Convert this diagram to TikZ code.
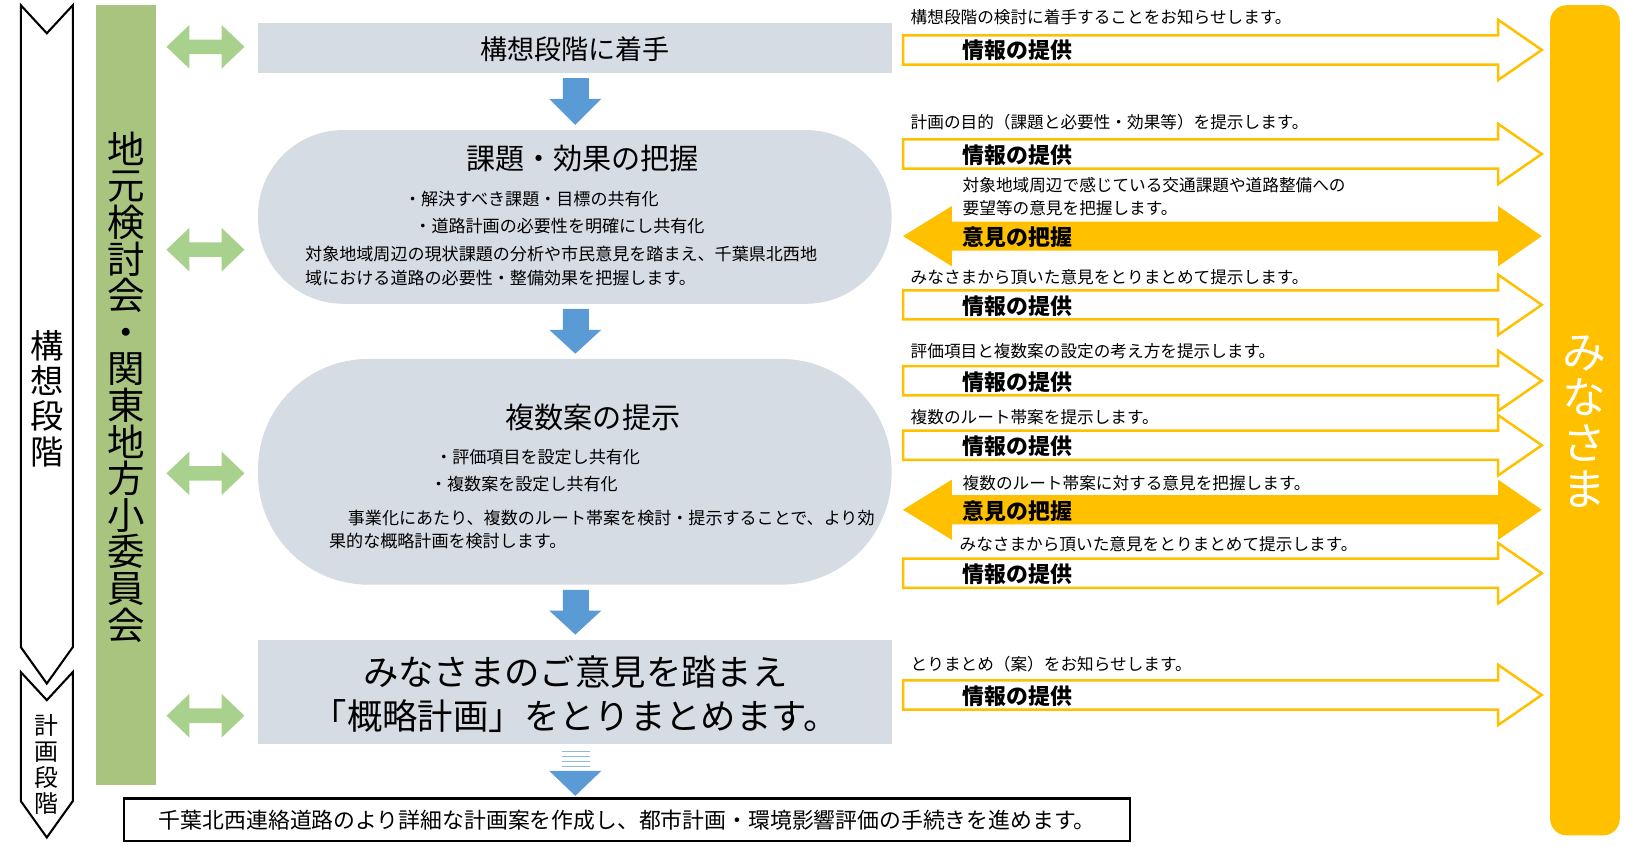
\documentclass[tikz,border=0pt]{standalone}
\usepackage{fontspec}
\setmainfont{Noto Sans CJK JP}
\begin{document}
\begin{tikzpicture}[x=0.5pt,y=-0.5pt,
  gbox/.style={fill=boxgray,draw=none},
  sm/.style={font=\fontsize{8}{9.5}\selectfont,anchor=west,inner sep=0},
  lab/.style={font=\fontsize{10.5}{12}\selectfont\bfseries,anchor=west,inner sep=0},
  body/.style={font=\fontsize{8.2}{11.5}\selectfont,anchor=west,inner sep=0,align=left}]
\definecolor{boxgray}{HTML}{D6DCE4}
\definecolor{gbar}{HTML}{A9C47F}
\definecolor{garr}{HTML}{A9D18E}
\definecolor{barr}{HTML}{5B9BD5}
\definecolor{yel}{HTML}{FFC000}
\useasboundingbox (0,0) rectangle (1562,814);
\newcommand\InfoArrow[1]{\draw[yel,line width=1.2pt,fill=white,line join=miter] (868,#1-14)--(1440,#1-14)--(1440,#1-29)--(1482,#1)--(1440,#1+29)--(1440,#1+14)--(868,#1+14)--cycle;}
\newcommand\BothArrow[1]{\fill[yel] (868,#1)--(915,#1-29)--(915,#1-14)--(1440,#1-14)--(1440,#1-29)--(1482,#1)--(1440,#1+29)--(1440,#1+14)--(915,#1+14)--(915,#1+29)--cycle;}
\newcommand\GArrow[1]{\fill[garr] (160,#1)--(182,#1-21)--(182,#1-7)--(213,#1-7)--(213,#1-21)--(235,#1)--(213,#1+21)--(213,#1+7)--(182,#1+7)--(182,#1+21)--cycle;}
\newcommand\BArrow[2]{\fill[barr] (541,#1)--(566,#1)--(566,#1+20)--(578,#1+20)--(553,#2)--(528,#1+20)--(541,#1+20)--cycle;}
% left stage arrows
\draw[line width=1pt] (20,5)--(45,32)--(70,5)--(70,622)--(45,657)--(20,622)--cycle;
\draw[line width=1pt] (20,646)--(45,673)--(70,646)--(70,770)--(45,805)--(20,770)--cycle;
\node[font=\fontsize{16}{17}\selectfont,align=center,inner sep=0] (s1) at (45,383) {構\\想\\段\\階};
\node[font=\fontsize{11.5}{12.5}\selectfont,align=center,inner sep=0] (s2) at (45,735) {計\\画\\段\\階};
% green bar
\fill[gbar] (92,5) rectangle (150,755);
\node[font=\fontsize{18}{17.6}\selectfont,align=center,inner sep=0] (loc) at (121,372) {地\\元\\検\\討\\会\\・\\関\\東\\地\\方\\小\\委\\員\\会};
\GArrow{45}\GArrow{240}\GArrow{455}\GArrow{688}
% main boxes
\fill[boxgray] (248,22) rectangle (857,70);
\node[font=\fontsize{13}{14}\selectfont] (b1) at (553,47) {構想段階に着手};
\fill[boxgray,rounded corners=41pt] (248,125) rectangle (857,292);
\node[font=\fontsize{14}{15}\selectfont] (b2) at (560,152) {課題・効果の把握};
\node[body] at (388,191) {・解決すべき課題・目標の共有化};
\node[body] at (398,217) {・道路計画の必要性を明確にし共有化};
\node[body] at (293,256) {対象地域周辺の現状課題の分析や市民意見を踏まえ、千葉県北西地\\域における道路の必要性・整備効果を把握します。};
\fill[boxgray,rounded corners=53pt] (248,345) rectangle (857,562);
\node[font=\fontsize{14}{15}\selectfont] (b3) at (570,401) {複数案の提示};
\node[body] at (418,439) {・評価項目を設定し共有化};
\node[body] at (413,465) {・複数案を設定し共有化};
\node[body] at (316,509) {\hspace{9pt}事業化にあたり、複数のルート帯案を検討・提示することで、より効\\果的な概略計画を検討します。};
\fill[boxgray] (248,615) rectangle (857,715);
\node[font=\fontsize{17}{21}\selectfont,align=center] (b4) at (553,667) {みなさまのご意見を踏まえ\\「概略計画」をとりまとめます。};
\BArrow{75}{120}\BArrow{297}{340}\BArrow{567}{610}
\foreach \yy in {722,727,732,737} \draw[barr!70,line width=0.5pt] (540,\yy)--(567,\yy);
\fill[barr] (528,741)--(578,741)--(553,765)--cycle;
\node[draw,line width=1pt,minimum width=967*0.5pt,minimum height=41*0.5pt,font=\fontsize{10.5}{12}\selectfont] (fin) at (603,788) {千葉北西連絡道路のより詳細な計画案を作成し、都市計画・環境影響評価の手続きを進めます。};
% right bar
\fill[yel,rounded corners=8] (1490,5) rectangle (1557,803);
\node[font=\fontsize{21}{22}\selectfont,align=center,text=white,inner sep=0] (mina) at (1523,405) {み\\な\\さ\\ま};
% right arrows
\InfoArrow{48}\InfoArrow{148}\BothArrow{227}\InfoArrow{293}\InfoArrow{366}\InfoArrow{428}\BothArrow{490}\InfoArrow{551}\InfoArrow{668}
\node[sm] at (875,17) {構想段階の検討に着手することをお知らせします。};
\node[lab] at (925,48) {情報の提供};
\node[sm] at (875,117) {計画の目的（課題と必要性・効果等）を提示します。};
\node[lab] at (925,149) {情報の提供};
\node[sm] at (925,178) {対象地域周辺で感じている交通課題や道路整備への};
\node[sm] at (925,200) {要望等の意見を把握します。};
\node[lab] at (925,228) {意見の把握};
\node[sm] at (875,266) {みなさまから頂いた意見をとりまとめて提示します。};
\node[lab] at (925,294) {情報の提供};
\node[sm] at (875,338) {評価項目と複数案の設定の考え方を提示します。};
\node[lab] at (925,367) {情報の提供};
\node[sm] at (875,401) {複数のルート帯案を提示します。};
\node[lab] at (925,429) {情報の提供};
\node[sm] at (925,464) {複数のルート帯案に対する意見を把握します。};
\node[lab] at (925,491) {意見の把握};
\node[sm] at (922,523) {みなさまから頂いた意見をとりまとめて提示します。};
\node[lab] at (925,552) {情報の提供};
\node[sm] at (875,638) {とりまとめ（案）をお知らせします。};
\node[lab] at (925,669) {情報の提供};
\end{tikzpicture}
\end{document}
